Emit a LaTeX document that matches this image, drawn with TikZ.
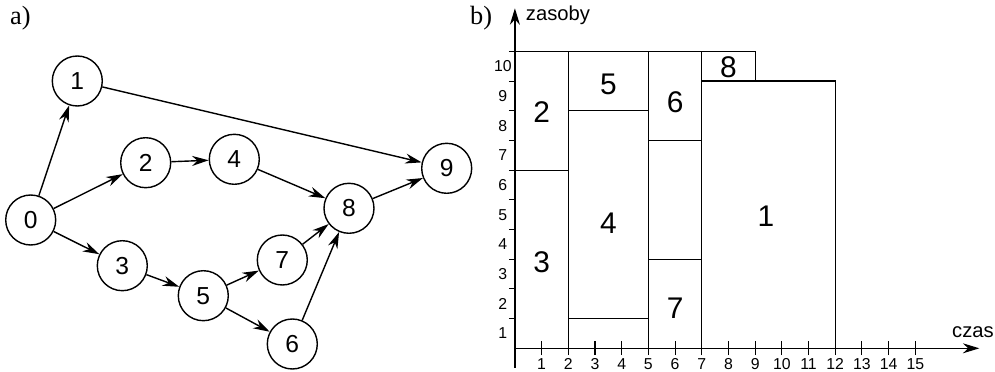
\documentclass[tikz,border=0pt]{standalone}
\usepackage{fontspec}
\setmainfont{Liberation Serif}
\setsansfont{Liberation Sans}
\usetikzlibrary{arrows.meta}

\begin{document}
\begin{tikzpicture}[
    x=0.02cm, y=0.02cm,
    >={Stealth[length=3.3mm,width=2mm]},
    node/.style={circle, draw, line width=0.8pt, minimum size=1cm, inner sep=0pt,
                 font=\sffamily\fontsize{14}{14}\selectfont},
    box/.style={draw, line width=0.7pt},
    task/.style={font=\sffamily\fontsize{17}{17}\selectfont},
    num/.style={font=\sffamily\fontsize{9}{9}\selectfont, inner sep=1pt}
]
\useasboundingbox (0,0) rectangle (995,372);

% 标题
\node[anchor=west, font=\fontsize{15}{15}\selectfont] (la) at (4,354)   {a)};
\node[anchor=west, font=\fontsize{15}{15}\selectfont] (lb) at (464,354) {b)};

% 网络图的十个点
\node[node] (0) at (30.7,152)  {0};
\node[node] (1) at (77.3,291)  {1};
\node[node] (2) at (145.7,209.3) {2};
\node[node] (3) at (122.3,106.3) {3};
\node[node] (4) at (234.3,212.7) {4};
\node[node] (5) at (203.3,76.3)  {5};
\node[node] (6) at (292.3,28)    {6};
\node[node] (7) at (282.3,112)   {7};
\node[node] (8) at (349,163.7)   {8};
\node[node] (9) at (446.7,203.7) {9};

% 0 指向 1, 2, 3
\draw[->,line width=0.8pt] (0) -- (1);
\draw[->,line width=0.8pt] (0) -- (2);
\draw[->,line width=0.8pt] (0) -- (3);

% 上面两条
\draw[->,line width=0.8pt] (1) -- (9);
\draw[->,line width=0.8pt] (2) -- (4);
\draw[->,line width=0.8pt] (4) -- (8);

% 下面
\draw[->,line width=0.8pt] (3) -- (5);
\draw[->,line width=0.8pt] (5) -- (7);
\draw[->,line width=0.8pt] (5) -- (6);
\draw[->,line width=0.8pt] (7) -- (8);
\draw[->,line width=0.8pt] (6) -- (8);
\draw[->,line width=0.8pt] (8) -- (9);

% 资源图
\begin{scope}[xshift=10.3cm, yshift=0.474cm, x=0.534cm, y=0.594cm]
  % 坐标轴
  \draw[->,line width=0.7pt] (0,-0.66) -- (0,11.45);
  \draw[->,line width=0.7pt] (0,0) -- (17.4,0);
  \node[anchor=base west, inner sep=0pt, font=\sffamily\fontsize{11.5}{11.5}\selectfont] (ylab) at (0.4,11.05) {zasoby};
  \node[anchor=base east, inner sep=0pt, font=\sffamily\fontsize{11.5}{11.5}\selectfont] (xlab) at (17.95,0.35) {czas};

  % 刻度
  \foreach \y in {1,...,10} {
    \draw[line width=0.6pt] (-0.23,\y) -- (0,\y);
    \node[num] (ny\y) at (-0.45,\y-0.5) {\y};
  }
  \foreach \x in {1,...,15} {
    \draw[line width=0.6pt] (\x,-0.23) -- (\x,0.23);
    \node[num] (nx\x) at (\x,-0.52) {\x};
  }

  % 各任务
  \draw[box] (0,0) rectangle (2,6);
  \draw[box] (0,6) rectangle (2,10);
  \draw[box] (2,1) rectangle (5,8);
  \draw[box] (2,8) rectangle (5,10);
  \draw[box] (5,7) rectangle (7,10);
  \draw[box] (5,3) rectangle (7,7);
  \draw[box] (5,0) rectangle (7,3);
  \draw[box] (7,9) rectangle (9,10);
  \draw[box] (7,0) rectangle (12,9);

  \node[task] (t1) at (9.4,4.45) {1};
  \node[task] (t2) at (1,7.95)   {2};
  \node[task] (t3) at (1,2.9)    {3};
  \node[task] (t4) at (3.5,4.2)  {4};
  \node[task] (t5) at (3.5,8.9)  {5};
  \node[task] (t6) at (6,8.3)    {6};
  \node[task] (t7) at (6,1.35)   {7};
  \node[task] (t8) at (8,9.45)   {8};
\end{scope}

\end{tikzpicture}
\end{document}
